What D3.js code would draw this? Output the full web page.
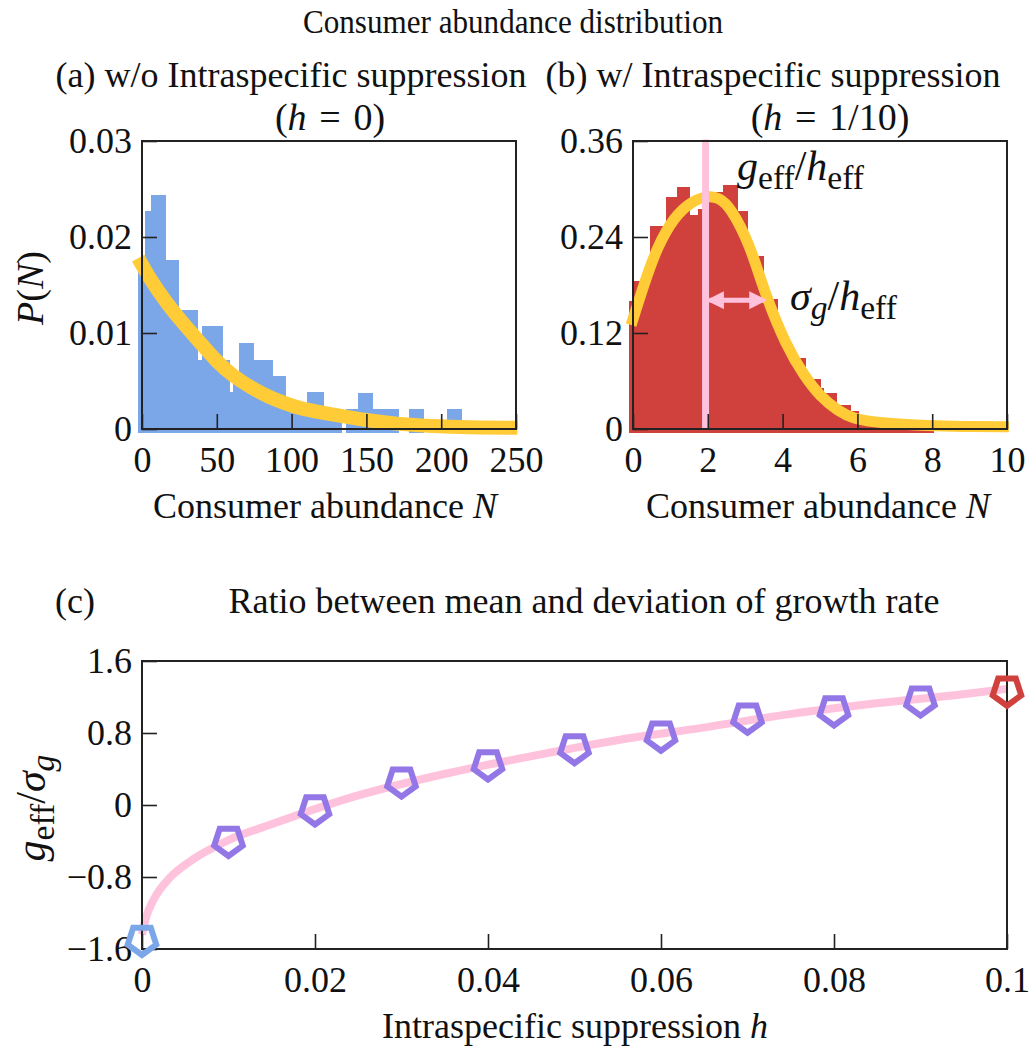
<!DOCTYPE html>
<html><head><meta charset="utf-8">
<script src="https://cdn.jsdelivr.net/npm/d3@7"></script>
<style>
body{margin:0;background:#fff;}
text{font-family:"Liberation Serif","Times New Roman",serif;fill:#111;}
</style></head>
<body><svg id="c" width="1029" height="1049"></svg>
<script>
// ---------- DATA ----------
// (a) histogram, h = 0 : bar left edge, right edge, density
const histA_x0 = [-2.7, 2.2, 6.2, 15.8, 24.3, 37.0, 39.9, 53.7, 58.2, 60.8, 64.8, 74.4, 87.1, 95.6, 110.5, 121.0, 136.1, 144.6, 154.2, 178.2, 203.6];
const histA_x1 = [2.2, 6.2, 15.8, 24.3, 37.0, 39.9, 53.7, 58.2, 60.8, 64.8, 74.4, 87.1, 95.6, 110.5, 121.0, 133.5, 144.6, 154.2, 171.3, 188.0, 213.2];
const histA_p  = [0.0175, 0.0227, 0.0244, 0.0176, 0.0124, 0.0072, 0.0107, 0.0072, 0.0039, 0.0055, 0.0090, 0.0072, 0.0055, 0.0021, 0.0039, 0.0021, 0.0021, 0.0038, 0.0021, 0.0021, 0.0021];
// (a) fitted curve
const curveA_N = [-2.5, 5, 17, 28, 39, 50, 61, 73, 84, 95, 106, 128, 150, 172, 195, 217, 251];
const curveA_P = [0.0178, 0.0157, 0.0130, 0.0109, 0.0090, 0.0070, 0.0055, 0.0043, 0.0034, 0.0027, 0.0021, 0.0015, 0.0009, 0.0005, 0.0003, 0.00018, 0.00012];
// (b) histogram, h = 1/10
const histB_x0 = [-0.12, 0.03, 0.46, 0.89, 1.17, 1.52, 1.74, 1.86, 2.06, 2.41, 2.79, 3.07, 3.22, 3.48, 3.85, 4.06, 4.33, 4.60, 4.73, 5.00, 5.09, 5.45, 5.80, 6.02, 6.29, 6.69, 7.14];
const histB_x1 = [0.03, 0.46, 0.89, 1.17, 1.52, 1.74, 1.86, 2.06, 2.41, 2.79, 3.07, 3.22, 3.48, 3.85, 4.06, 4.33, 4.60, 4.73, 5.00, 5.09, 5.45, 5.80, 6.02, 6.29, 6.69, 7.14, 8.02];
const histB_p  = [0.160, 0.185, 0.254, 0.290, 0.302, 0.268, 0.275, 0.285, 0.296, 0.305, 0.273, 0.229, 0.216, 0.163, 0.122, 0.097, 0.089, 0.068, 0.062, 0.051, 0.045, 0.030, 0.022, 0.015, 0.0095, 0.0066, 0.0033];
// (b) fitted curve
const curveB_N = [-0.05, 0.3, 0.65, 1.1, 1.54, 2.0, 2.3, 2.6, 3.15, 3.48, 4.1, 4.6, 5.0, 5.5, 5.9, 6.4, 6.96, 7.85, 8.8, 10.05];
const curveB_P = [0.130, 0.182, 0.228, 0.265, 0.284, 0.292, 0.289, 0.278, 0.228, 0.175, 0.103, 0.065, 0.041, 0.022, 0.013, 0.009, 0.0066, 0.0041, 0.0030, 0.0027];
const peakB = 1.94;          // g_eff/h_eff marker
const sigmaArrowEnd = 3.52;  // end of sigma arrow
const sigmaArrowP = 0.161;
// (c) ratio
const markerH = [0, 0.01, 0.02, 0.03, 0.04, 0.05, 0.06, 0.07, 0.08, 0.09, 0.1];
const markerV = [-1.50, -0.40, -0.05, 0.26, 0.45, 0.63, 0.77, 0.97, 1.05, 1.16, 1.27];
const curveC_h = [0, 0.0005, 0.0013, 0.0032, 0.0052, 0.01, 0.0148, 0.0244, 0.0352, 0.0449, 0.0549, 0.0649, 0.0749, 0.0849, 0.0949, 0.1];
const curveC_v = [-1.44, -1.24, -1.06, -0.81, -0.65, -0.39, -0.22, 0.09, 0.35, 0.54, 0.72, 0.86, 1.01, 1.13, 1.23, 1.29];
// ticks
const ticksAx = [0, 50, 100, 150, 200, 250], ticksAxMinor = [25, 75, 125, 175, 225];
const ticksAy = [0, 0.01, 0.02, 0.03], ticksAyMinor = [0.005, 0.015, 0.025];
const ticksBx = [0, 2, 4, 6, 8, 10], ticksBxMinor = [1, 3, 5, 7, 9];
const ticksBy = [0, 0.12, 0.24, 0.36], ticksByMinor = [0.06, 0.18, 0.30];
const ticksCx = [0, 0.02, 0.04, 0.06, 0.08, 0.1], ticksCxMinor = [0.01, 0.03, 0.05, 0.07, 0.09];
const ticksCy = [-1.6, -0.8, 0, 0.8, 1.6], ticksCyMinor = [-1.2, -0.4, 0.4, 1.2];

// ---------- STYLE ----------
const BLUE = "#7ba7e9", RED = "#d0403c";
const YELLOW = "#ffcb36", PINK = "#ffc2dd", PURPLE = "#9377e6";
const FS = 36, MFS = 42;

const svg = d3.select("#c");

const xa = d3.scaleLinear([0, 250], [142, 516]);
const ya = d3.scaleLinear([0, 0.03], [429, 141]);
const xb = d3.scaleLinear([0, 10], [633, 1007]);
const yb = d3.scaleLinear([0, 0.36], [429, 141]);
const xc = d3.scaleLinear([0, 0.1], [142, 1007]);
const yc = d3.scaleLinear([-1.6, 1.6], [949, 661]);

function fmt(v){ if (v === 0) return "0"; const s = String(Math.abs(v)); return (v < 0 ? "\u2212" : "") + s; }

function axes(x, y, tx, txm, ty, tym){
  const [x0, x1] = x.range(), [y0, y1] = y.range();
  const gx = svg.append("g").attr("transform", `translate(0,${y0})`);
  gx.call(d3.axisBottom(x).tickValues(txm).tickSize(-8).tickFormat(""));
  gx.call(d3.axisBottom(x).tickValues(tx).tickSize(-15).tickPadding(17).tickFormat(fmt));
  const gy = svg.append("g").attr("transform", `translate(${x0},0)`);
  gy.call(d3.axisLeft(y).tickValues(tym).tickSize(-8).tickFormat(""));
  gy.call(d3.axisLeft(y).tickValues(ty).tickSize(-15).tickPadding(10).tickFormat(fmt));
  svg.selectAll(".domain").remove();
  [gx, gy].forEach(g => {
    g.selectAll("line").attr("stroke", "#222").attr("stroke-width", 1.6);
    g.selectAll("text").attr("font-size", FS).attr("font-family", '"Liberation Serif",serif').attr("fill", "#111");
  });
  svg.append("rect").attr("x", x0).attr("y", y1).attr("width", x1 - x0).attr("height", y0 - y1)
    .attr("fill", "none").attr("stroke", "#222").attr("stroke-width", 2);
}

// rich text helper: parts = [[text, style]] style: 'i' italic, 's' subscript roman, 'si' subscript italic
function rich(g, x, y, parts, anchor, size, subScale){
  const fs = size || FS, sc = subScale || 0.7, shift = Math.round(fs * 0.22);
  const t = g.append("text").attr("x", x).attr("y", y).attr("font-size", fs).attr("text-anchor", anchor || "start");
  let shifted = false;
  parts.forEach(([s, st]) => {
    const sp = t.append("tspan").text(s);
    const isSub = st === "s" || st === "si";
    if (st === "i" || st === "si") sp.attr("font-style", "italic");
    if (isSub) { sp.attr("font-size", fs * sc); if (!shifted) { sp.attr("dy", shift); shifted = true; } }
    else if (shifted) { sp.attr("dy", -shift); shifted = false; }
  });
  return t;
}

function bars(x, y, x0s, x1s, ps, fill){
  svg.append("g").attr("shape-rendering", "crispEdges").selectAll("rect").data(ps).join("rect")
    .attr("x", (d, i) => x(x0s[i])).attr("width", (d, i) => x(x1s[i]) - x(x0s[i]) + 0.6)
    .attr("y", d => y(d)).attr("height", d => y(0) - y(d) + 4)
    .attr("fill", fill);
}

// ---------- PANEL (a) ----------
bars(xa, ya, histA_x0, histA_x1, histA_p, BLUE);
svg.append("path").datum(curveA_N.map((n, i) => [n, curveA_P[i]]))
  .attr("d", d3.line().x(d => xa(d[0])).y(d => ya(d[1])).curve(d3.curveBasis))
  .attr("fill", "none").attr("stroke", YELLOW).attr("stroke-width", 14);
axes(xa, ya, ticksAx, ticksAxMinor, ticksAy, ticksAyMinor);

// ---------- PANEL (b) ----------
bars(xb, yb, histB_x0, histB_x1, histB_p, RED);
svg.append("path").datum(curveB_N.map((n, i) => [n, curveB_P[i]]))
  .attr("d", d3.line().x(d => xb(d[0])).y(d => yb(d[1])).curve(d3.curveBasis))
  .attr("fill", "none").attr("stroke", YELLOW).attr("stroke-width", 11);
svg.append("line").attr("x1", xb(peakB)).attr("x2", xb(peakB)).attr("y1", yb(0.362)).attr("y2", yb(0))
  .attr("stroke", PINK).attr("stroke-width", 7);
// double arrow
const defs = svg.append("defs");
defs.append("marker").attr("id", "ah").attr("viewBox", "0 0 10 10").attr("refX", 8).attr("refY", 5)
  .attr("markerWidth", 3.6).attr("markerHeight", 3.6).attr("orient", "auto-start-reverse")
  .append("path").attr("d", "M0,0 L10,5 L0,10 Z").attr("fill", PINK);
svg.append("line").attr("x1", xb(peakB) + 4).attr("x2", xb(sigmaArrowEnd) - 1)
  .attr("y1", yb(sigmaArrowP)).attr("y2", yb(sigmaArrowP))
  .attr("stroke", PINK).attr("stroke-width", 5)
  .attr("marker-start", "url(#ah)").attr("marker-end", "url(#ah)");
axes(xb, yb, ticksBx, ticksBxMinor, ticksBy, ticksByMinor);
rich(svg, 737, 180, [["g", "i"], ["eff", "s"], ["/", ""], ["h", "i"], ["eff", "s"]], "start", MFS, 0.8);
rich(svg, 790, 310, [["\u03c3", "i"], ["g", "si"], ["/", ""], ["h", "i"], ["eff", "s"]], "start", MFS, 0.8);

// ---------- PANEL (c) ----------
svg.append("path").datum(curveC_h.map((h, i) => [h, curveC_v[i]]))
  .attr("d", d3.line().x(d => xc(d[0])).y(d => yc(d[1])).curve(d3.curveMonotoneX))
  .attr("fill", "none").attr("stroke", PINK).attr("stroke-width", 8);
axes(xc, yc, ticksCx, ticksCxMinor, ticksCy, ticksCyMinor);
const R = 15;
const pent = d3.range(5).map(k => { const a = Math.PI / 2 + k * 2 * Math.PI / 5; return [R * Math.cos(a), R * Math.sin(a)]; });
const pentPath = "M" + pent.map(p => p.join(",")).join("L") + "Z";
svg.append("g").selectAll("path").data(markerH).join("path")
  .attr("transform", (d, i) => `translate(${xc(d)},${yc(markerV[i])})`)
  .attr("d", pentPath).attr("fill", "none").attr("stroke-width", 6).attr("stroke-linejoin", "miter")
  .attr("stroke", (d, i) => i === 0 ? BLUE : (i === markerH.length - 1 ? RED : PURPLE));

// ---------- TEXT ----------
svg.append("text").attr("x", 513).attr("y", 33).attr("text-anchor", "middle").attr("font-size", 34)
  .attr("textLength", 420).attr("lengthAdjust", "spacingAndGlyphs").text("Consumer abundance distribution");
svg.append("text").attr("x", 291).attr("y", 87).attr("text-anchor", "middle").attr("font-size", FS).text("(a) w/o Intraspecific suppression");
svg.append("text").attr("x", 773).attr("y", 87).attr("text-anchor", "middle").attr("font-size", FS).text("(b) w/ Intraspecific suppression");
rich(svg, 330, 130, [["(", ""], ["h", "i"], ["\u2004=\u20040)", ""]], "middle", 38);
rich(svg, 830, 130, [["(", ""], ["h", "i"], ["\u2004=\u20041/10)", ""]], "middle", 38);
rich(svg, 325, 518, [["Consumer abundance ", ""], ["N", "i"]], "middle");
rich(svg, 818, 518, [["Consumer abundance ", ""], ["N", "i"]], "middle");
rich(svg.append("g").attr("transform", "translate(43,288) rotate(-90)"), 0, 0, [["P", "i"], ["(", ""], ["N", "i"], [")", ""]], "middle", 38);
svg.append("text").attr("x", 55).attr("y", 613).attr("font-size", FS).text("(c)");
svg.append("text").attr("x", 584).attr("y", 613).attr("text-anchor", "middle").attr("font-size", FS).text("Ratio between mean and deviation of growth rate");
rich(svg, 575, 1038, [["Intraspecific suppression ", ""], ["h", "i"]], "middle");
rich(svg.append("g").attr("transform", "translate(45,808) rotate(-90)"), 0, 0, [["g", "i"], ["eff", "s"], ["/", ""], ["\u03c3", "i"], ["g", "si"]], "middle", MFS, 0.8);
</script></body></html>
